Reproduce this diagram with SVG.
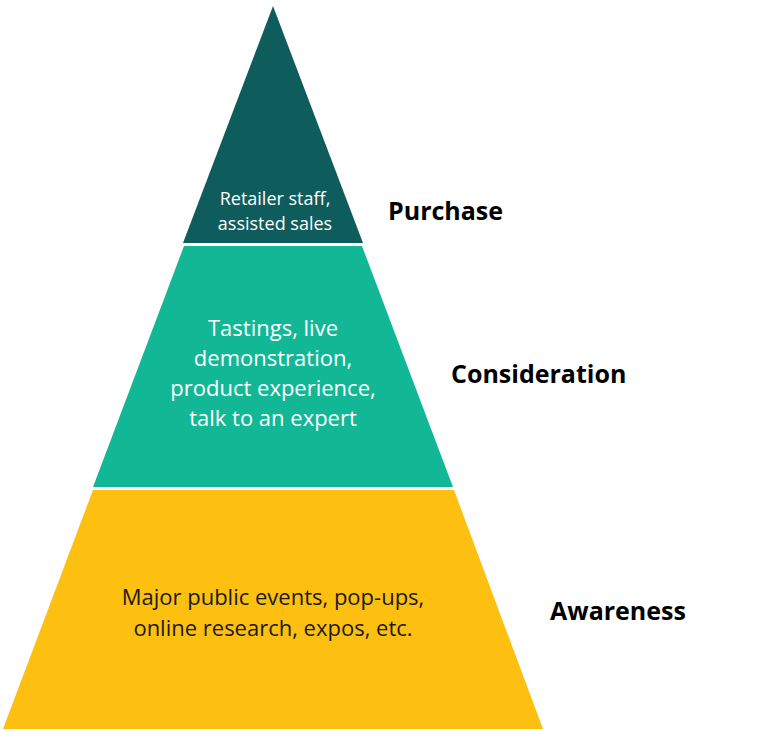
<svg xmlns="http://www.w3.org/2000/svg" width="766" height="731" viewBox="0 0 766 731">
<style>
.t{font-family:"Open Sans","Liberation Sans",sans-serif;text-anchor:middle;fill:#fff}
.d{fill:#1a1a1a}
.l{font-family:"Open Sans","Liberation Sans",sans-serif;font-weight:bold;fill:#000}
</style>
<rect width="766" height="731" fill="#fff"/>
<g id="purchase">
<polygon points="273,6 183,243 363,243" fill="#0e5c5b"/>
<text class="t" font-size="18" x="275" y="205">Retailer staff,</text>
<text class="t" font-size="18" x="275" y="230">assisted sales</text>
<text class="l" font-size="25" x="388" y="220">Purchase</text>
</g>
<g id="consideration">
<polygon points="184,246 362,246 453,487 93,487" fill="#12b896"/>
<text class="t" font-size="22" x="273" y="336">Tastings, live</text>
<text class="t" font-size="22" x="273" y="366">demonstration,</text>
<text class="t" font-size="22" x="273" y="396">product experience,</text>
<text class="t" font-size="22" x="273" y="426">talk to an expert</text>
<text class="l" font-size="25" x="451" y="383">Consideration</text>
</g>
<g id="awareness">
<polygon points="93,490 454,490 543,729 3,729" fill="#fdc010"/>
<text class="t d" font-size="22" x="273" y="605">Major public events, pop-ups,</text>
<text class="t d" font-size="22" x="273" y="636">online research, expos, etc.</text>
<text class="l" font-size="25" x="550" y="620">Awareness</text>
</g>
<g id="connectors"/>
</svg>
